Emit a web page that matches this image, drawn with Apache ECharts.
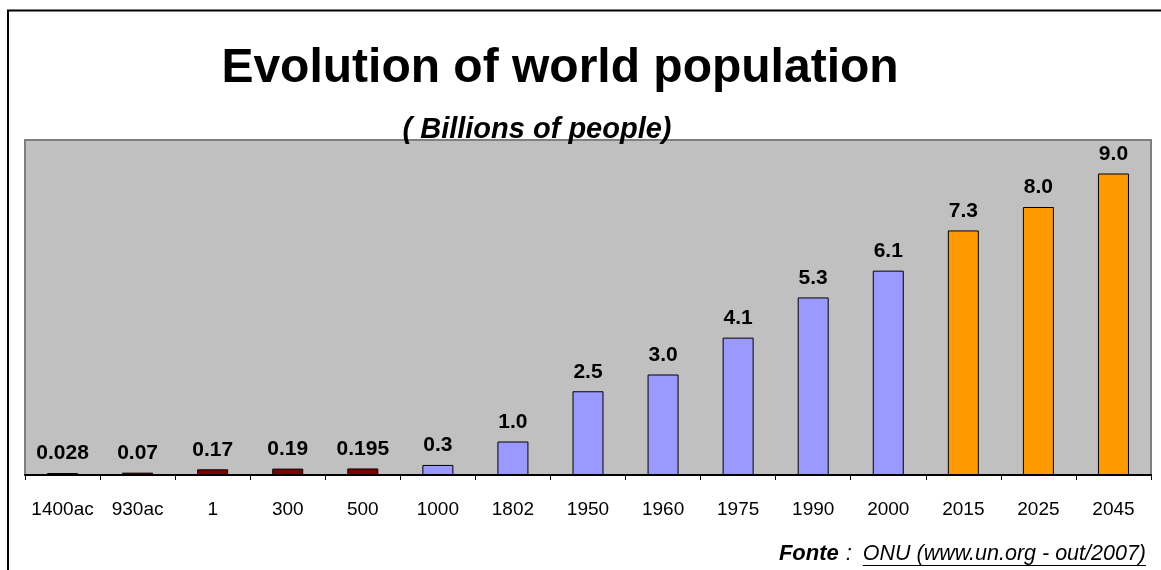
<!DOCTYPE html>
<html>
<head>
<meta charset="utf-8">
<script src="https://cdn.jsdelivr.net/npm/echarts@6/dist/echarts.min.js"></script>
<style>
  html, body { margin: 0; padding: 0; background: #ffffff; }
  #chart { width: 1161px; height: 570px; }
</style>
</head>
<body>
<div id="chart"></div>
<script>
// World population by year, in billions of people
const categories = ['1400ac', '930ac', '1', '300', '500', '1000', '1802', '1950', '1960', '1975', '1990', '2000', '2015', '2025', '2045'];
const population = [0.028, 0.07, 0.17, 0.19, 0.195, 0.3, 1.0, 2.5, 3.0, 4.1, 5.3, 6.1, 7.3, 8.0, 9.0];
const periods = ['ancient', 'ancient', 'ancient', 'ancient', 'ancient',
                 'recorded', 'recorded', 'recorded', 'recorded', 'recorded', 'recorded', 'recorded',
                 'projected', 'projected', 'projected'];

const titleText = 'Evolution of world population';
const subtitleText = '( Billions of people)';
const sourceLead = 'Fonte';
const sourceText = 'ONU (www.un.org - out/2007)';

const FONT = '"Liberation Sans", Arial, Helvetica, sans-serif';
const periodColors = { ancient: '#800000', recorded: '#9999FF', projected: '#FF9900' };

// Text width helper for laying out the footer and its underline
const measureCtx = document.createElement('canvas').getContext('2d');
function textWidth(str, font) {
  measureCtx.font = font;
  return measureCtx.measureText(str).width;
}

const chart = echarts.init(document.getElementById('chart'), null, { renderer: 'canvas' });

const sourceFont = 'italic 21.5px ' + FONT;
const leadFont = 'italic bold 22px ' + FONT;
const colonFont = 'italic 22px ' + FONT;
const sourceRight = 1146;
const footerY = 554;
const sourceW = textWidth(sourceText, sourceFont);
const sourceLeft = sourceRight - sourceW;
const colonLeft = sourceLeft - 17;
const leadRight = colonLeft - 7;

const option = {
  animation: false,
  backgroundColor: '#ffffff',
  grid: {
    left: 25, right: 10, top: 140, bottom: 95,
    show: true,
    backgroundColor: '#C0C0C0',
    borderColor: '#808080',
    borderWidth: 2
  },
  xAxis: {
    type: 'category',
    data: categories,
    offset: 1,
    axisLine: { show: true, lineStyle: { color: '#000000', width: 2 } },
    axisTick: { show: true, interval: 0, alignWithLabel: false, length: 5, lineStyle: { color: '#000000', width: 1 } },
    axisLabel: { interval: 0, hideOverlap: false, color: '#000000', fontFamily: FONT, fontSize: 19, margin: 24 },
    splitLine: { show: false }
  },
  yAxis: {
    type: 'value',
    min: 0, max: 10,
    show: false,
    splitLine: { show: false }
  },
  series: [{
    type: 'bar',
    barWidth: 31,
    barMinHeight: 2,
    data: population.map((v, i) => ({
      value: v,
      itemStyle: { color: periodColors[periods[i]] }
    })),
    itemStyle: { borderColor: '#000000', borderWidth: 1 },
    label: {
      show: true,
      position: 'top',
      distance: 9,
      color: '#000000',
      fontFamily: FONT,
      fontWeight: 'bold',
      fontSize: 21,
      formatter: p => (p.value >= 1 ? p.value.toFixed(1) : String(p.value))
    }
  }],
  graphic: [
    {
      type: 'rect', z: 100, silent: true,
      shape: { x: 8, y: 10.5, width: 1400, height: 800 },
      style: { fill: 'none', stroke: '#000000', lineWidth: 2 }
    },
    {
      type: 'text', z: 100, x: 560, y: 69,
      style: { text: titleText, font: 'bold 48px ' + FONT, fill: '#000000', textAlign: 'center', textVerticalAlign: 'middle' }
    },
    {
      type: 'text', z: 100, x: 537, y: 130,
      style: { text: subtitleText, font: 'italic bold 29px ' + FONT, fill: '#000000', textAlign: 'center', textVerticalAlign: 'middle' }
    },
    {
      type: 'text', z: 100, x: leadRight, y: footerY,
      style: { text: sourceLead, font: leadFont, fill: '#000000', textAlign: 'right', textVerticalAlign: 'middle' }
    },
    {
      type: 'text', z: 100, x: colonLeft, y: footerY,
      style: { text: ':', font: colonFont, fill: '#000000', textAlign: 'left', textVerticalAlign: 'middle' }
    },
    {
      type: 'text', z: 100, x: sourceLeft, y: footerY,
      style: { text: sourceText, font: sourceFont, fill: '#000000', textAlign: 'left', textVerticalAlign: 'middle' }
    },
    {
      type: 'line', z: 100, silent: true,
      shape: { x1: sourceLeft, y1: footerY + 11.5, x2: sourceRight, y2: footerY + 11.5 },
      style: { stroke: '#000000', lineWidth: 1 }
    }
  ]
};

chart.setOption(option);
</script>
</body>
</html>
